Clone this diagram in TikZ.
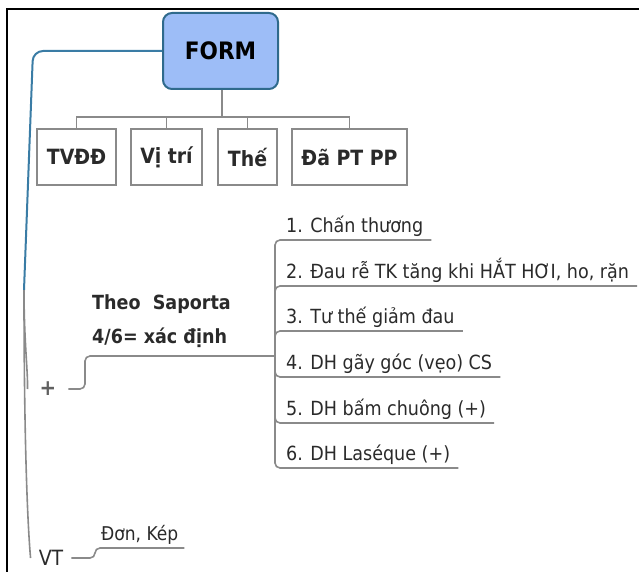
\documentclass[tikz,border=0pt]{standalone}
\usepackage{fontspec}
\setmainfont{DejaVu Sans Condensed}
\usepackage{xcolor}
\usetikzlibrary{positioning,calc}

\definecolor{formfill}{HTML}{9DBDF7}
\definecolor{formdraw}{HTML}{2F6A8C}
\definecolor{trunkblue}{HTML}{3A7CA5}
\definecolor{linegray}{HTML}{8A8A8A}
\definecolor{textdark}{HTML}{2A2A2A}

\begin{document}
\begin{tikzpicture}[
    x=1pt, y=-1pt,
    mainbox/.style={rectangle, draw=formdraw, fill=formfill, rounded corners=9pt, line width=2pt, minimum width=115pt, minimum height=76pt, font=\fontsize{24}{26}\selectfont\bfseries},
    subbox/.style={rectangle, draw=linegray, fill=white, line width=1.8pt, minimum height=56pt, inner xsep=3pt, font=\fontsize{21}{24}\selectfont\bfseries, text=textdark},
    item/.style={anchor=south west, inner xsep=8pt, inner ysep=3pt, font=\fontsize{19.5}{22}\selectfont, text=textdark},
    tree/.style={draw=linegray, line width=1.8pt},
    branch/.style={draw=linegray, line width=1.6pt, rounded corners=5pt},
    trunk/.style={draw=trunkblue, line width=2pt, rounded corners=10pt}
]
    \useasboundingbox (0,0) rectangle (642,572);

    % frame
    \draw [line width=2pt] (7,572) -- (7,9) -- (639,9);

    % Top: central topic and its four boxes
    \node (form) at (220.5,51) [mainbox] {FORM};
    \node (tvdd) at (76.5,157) [subbox, minimum width=79pt] {TVĐĐ};
    \node (vitri) at (166.5,157) [subbox, minimum width=71pt] {Vị trí};
    \node (the) at (247.5,157) [subbox, minimum width=59pt] {Thế};
    \node (dapt) at (349.5,157) [subbox, minimum width=115pt] {Đã PT PP};

    \coordinate (bus) at (222,117);
    \draw [tree] (form.south -| bus) -- (bus);
    \draw [tree] (tvdd.north) |- (bus) -| (dapt.north);
    \foreach \b in {vitri, the}
        \draw [tree] (\b.north) -- (\b.north |- bus);

    % Left branches
    \node (plus) at (48,389) [inner xsep=12pt, font=\fontsize{22}{24}\selectfont\bfseries, text=linegray!70!black] {+};
    \node (vt) at (51,558) [inner xsep=8pt, inner ysep=1pt, font=\fontsize{21}{23}\selectfont, text=textdark] {VT};
    \coordinate (split) at (24,290);
    \draw [trunk] (form.west) -- (33,51) -- (split);
    \draw [draw=linegray, line width=1.6pt] (split) .. controls (24,340) and (28,372) .. (plus.west);
    \draw [draw=linegray, line width=1.6pt] (split) .. controls (24,450) and (28,530) .. (vt.west);

    % Saporta criteria
    \node (sap) at (85,356) [anchor=south west, align=left, inner xsep=7pt, inner ysep=8pt, font=\fontsize{19.5}{34}\selectfont\bfseries, text=textdark] {Theo\ \ Saporta\\4/6= xác định};
    \coordinate (brk) at (275,356);
    \draw [branch] (plus.east) -| (sap.south west) -- (brk);

    \node (i1) at (278,240) [item] {1. Chấn thương};
    \node (i2) at (278,286) [item] {2. Đau rễ TK tăng khi HẮT HƠI, ho, rặn};
    \node (i3) at (278,331) [item] {3. Tư thế giảm đau};
    \node (i4) at (278,377) [item] {4. DH gãy góc (vẹo) CS};
    \node (i5) at (278,423) [item] {5. DH bấm chuông (+)};
    \node (i6) at (278,468) [item] {6. DH Laséque (+)};
    \foreach \i in {1,...,6}
        \draw [branch] (brk) |- (i\i.south east);

    % Don, Kep
    \node (donkep) at (95,548) [anchor=south west, inner xsep=6pt, inner ysep=3pt, font=\fontsize{19}{21}\selectfont, text=textdark] {Đơn, Kép};
    \draw [branch] (vt.east) -| (donkep.south west) -- (donkep.south east);

\end{tikzpicture}
\end{document}
